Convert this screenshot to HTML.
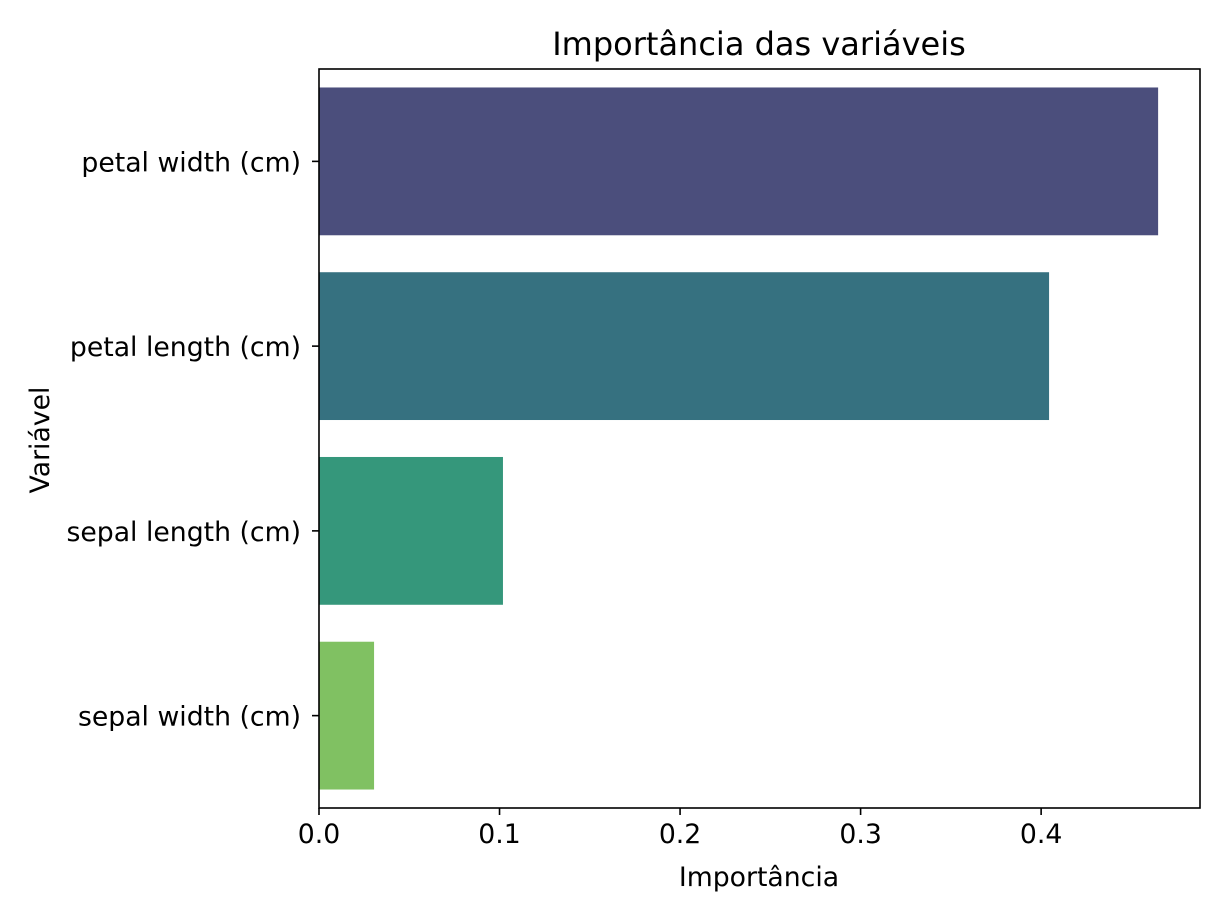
<!DOCTYPE html>
<html><head><meta charset="utf-8"><style>
html,body{margin:0;padding:0;background:#fff;}
svg{display:block;font-family:"DejaVu Sans","Liberation Sans",sans-serif;}
</style></head><body>
<svg id="chart" width="1228" height="921">
<text x="759" y="55" font-size="32" text-anchor="middle">Importância das variáveis</text>
<text x="759" y="886" font-size="26.7" text-anchor="middle">Importância</text>
<text transform="translate(49,440) rotate(-90)" font-size="26.7" text-anchor="middle">Variável</text>
<g id="bars"></g>
<g id="xticks"></g>
<g id="yticks"></g>
<rect x="319" y="69" width="881" height="739" fill="none" stroke="#000" stroke-width="1.6"/>
</svg>
<script>
const categories = ["petal width (cm)","petal length (cm)","sepal length (cm)","sepal width (cm)"];
const values = [0.4648, 0.4044, 0.1019, 0.0305];
const colors = ["#4b4e7c","#367180","#35977b","#80c162"];
const xTickValues = [0.0,0.1,0.2,0.3,0.4];
const xTickLabels = ["0.0","0.1","0.2","0.3","0.4"];
const NS="http://www.w3.org/2000/svg";
const L=319,R=1200,T=69,B=808,xmax=0.488;
function xs(v){return L+v/xmax*(R-L);}
function ys(i){return T+(i+0.5)*(B-T)/categories.length;}
const band=(B-T)/categories.length*0.8;
const gb=document.getElementById('bars'),gx=document.getElementById('xticks'),gy=document.getElementById('yticks');
function mk(tag,attrs,parent){const e=document.createElementNS(NS,tag);for(const k in attrs)e.setAttribute(k,attrs[k]);parent.appendChild(e);return e;}
categories.forEach((c,i)=>{
  const r=mk('rect',{x:xs(0),y:ys(i)-band/2,width:xs(values[i])-xs(0),height:band,fill:colors[i]},gb);
  
  
  const t=mk('line',{x1:L-7,x2:L,y1:ys(i),y2:ys(i),stroke:'#000','stroke-width':1.6},gy);
  
  
  const tx=mk('text',{x:L-18,y:ys(i)+10,'font-size':26.7,'text-anchor':'end'},gy);
  tx.textContent=c;
  
  
});
xTickValues.forEach((v,i)=>{
  const t=mk('line',{x1:xs(v),x2:xs(v),y1:B,y2:B+7,stroke:'#000','stroke-width':1.6},gx);
  
  
  const tx=mk('text',{x:xs(v),y:B+35,'font-size':26.7,'text-anchor':'middle'},gx);
  tx.textContent=xTickLabels[i];
  
  
});
</script>
</body></html>
